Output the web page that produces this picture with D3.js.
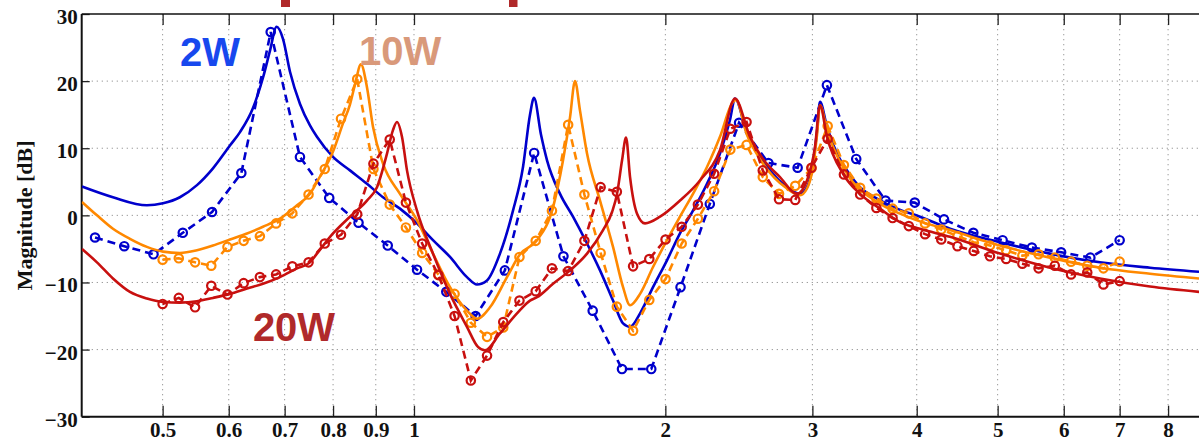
<!DOCTYPE html>
<html><head><meta charset="utf-8">
<script src="https://cdn.jsdelivr.net/npm/d3@7"></script>
<style>html,body{margin:0;padding:0;background:#fff;overflow:hidden}</style>
</head><body><svg id="c" width="1199" height="443"></svg>
<script>
// ---------- data ----------
const xTicks = [0.5,0.6,0.7,0.8,0.9,1,2,3,4,5,6,7,8];
const yTicks = [-30,-20,-10,0,10,20,30];
const seriesNames = ["2W","10W","20W"];

// model curves (solid)
const model2WF  = [0.4003,0.4360,0.4788,0.5005,0.5244,0.5497,0.5745,0.6020,0.6189,0.6415,0.6594,0.6722,0.6847,0.6968,0.7104,0.7303,0.7506,0.7652,0.7999,0.8381,0.8784,0.9181,0.9621,1.0083,1.0538,1.1044,1.1573,1.1897,1.2230,1.2676,1.3139,1.3507,1.3770,1.3923,1.4195,1.4432,1.4959,1.5504,1.6115,1.6703,1.7313,1.7798,1.8145,1.8653,1.9332,2.0090,2.0823,2.1583,2.2433,2.3251,2.3901,2.4233,2.5049,2.5963,2.6910,2.7970,2.8992,2.9557,3.0050,3.0384,3.0636,3.1234,3.2108,3.3006,3.4210,3.5850,3.7886,4.0365,4.3849,5.0326,5.7763,6.6309,7.6118,8.7127];
const model2WDb = [4.3,2.7,1.5,1.8,2.7,4.5,7.0,10.4,12.4,16.0,20.5,24.5,28.1,26.3,21.4,16.6,13.4,11.7,8.7,6.7,4.7,2.7,1.0,-1.2,-3.7,-6.2,-9.2,-10.3,-9.7,-5.7,0.7,7.2,15.0,17.5,12.0,8.2,3.2,-0.2,-4.2,-8.2,-12.7,-16.1,-16.6,-14.6,-10.7,-6.7,-2.7,0.7,4.7,9.2,14.2,17.4,12.2,8.7,6.2,4.2,3.2,4.2,7.7,12.5,16.9,13.2,9.2,6.7,4.2,2.5,1.0,-0.2,-2.0,-4.0,-5.7,-7.0,-7.8,-8.4];

const model10WF  = [0.4003,0.4172,0.4360,0.4569,0.4788,0.5005,0.5244,0.5497,0.5745,0.6020,0.6310,0.6594,0.6910,0.7243,0.7506,0.7652,0.7999,0.8222,0.8381,0.8499,0.8639,0.8784,0.8931,0.9181,0.9621,1.0083,1.0538,1.1044,1.1573,1.1897,1.2331,1.2923,1.3395,1.4039,1.4673,1.5083,1.5377,1.5590,1.5806,1.6115,1.6703,1.7313,1.7798,1.8145,1.8653,1.9332,2.0090,2.0823,2.1583,2.2433,2.3251,2.4100,2.4300,2.5049,2.5963,2.7970,2.8992,2.9557,3.0050,3.0384,3.0636,3.1234,3.3006,3.5850,3.8202,4.0365,4.3849,5.0326,5.7763,6.6309,7.6118,8.7127];
const model10WDb = [2.0,0,-2.0,-3.5,-4.7,-5.4,-5.6,-5.2,-4.5,-3.6,-2.7,-1.7,-0.5,1.5,3.2,5.0,9.5,13.7,16.5,19.5,22.5,19.1,13.2,7.7,3.2,-0.7,-5.7,-10.7,-14.2,-15.4,-13.7,-9.2,-5.8,-3.7,1.2,8.2,14.6,20.0,15.6,9.2,2.2,-4.7,-10.7,-13.4,-11.7,-7.7,-3.7,-0.2,3.2,7.2,11.7,16.9,17.2,12.0,8.4,4.0,3.0,4.0,7.2,12.0,16.4,12.7,6.2,2.0,0.25,-0.9,-2.2,-4.5,-6.3,-7.8,-8.7,-9.4];

const model20WF  = [0.4003,0.4172,0.4360,0.4569,0.4788,0.5005,0.5244,0.5497,0.5745,0.6020,0.6310,0.6594,0.6910,0.7243,0.7506,0.7652,0.7999,0.8381,0.8784,0.9030,0.9283,0.9437,0.9542,0.9674,0.9809,1.0083,1.0538,1.1044,1.1573,1.1930,1.2162,1.2676,1.3285,1.3770,1.4039,1.4673,1.5377,1.6115,1.6842,1.7266,1.7505,1.7749,1.7946,1.8145,1.8499,1.8911,1.9709,2.0823,2.2004,2.3251,2.4233,2.5257,2.6178,2.7435,2.8753,2.9557,3.0217,3.0636,3.1234,3.2643,3.4210,3.6148,3.8202,4.0365,4.3849,5.0326,5.7763,6.6309,7.6118,8.7127];
const model20WDb = [-5.0,-7.0,-9.4,-11.4,-12.4,-12.9,-13.0,-12.8,-12.3,-11.7,-10.9,-10.2,-9.2,-7.9,-7.0,-5.7,-2.7,-0.2,2.2,4.2,9.2,12.7,13.9,11.7,6.7,0.7,-5.7,-11.7,-16.6,-19.6,-20.1,-17.6,-14.6,-12.7,-12.2,-10.2,-8.2,-5.7,-2.2,0.5,3.2,8.2,11.6,5.7,0.25,-1.2,-0.2,2.2,5.2,9.7,17.4,11.7,8.4,5.7,3.2,5.2,10.2,16.4,11.7,6.2,3.2,1.0,-1.0,-2.0,-3.2,-5.7,-7.8,-9.4,-10.6,-11.4];

// measured points (dashed + circles)
const meas2WF  = [0.4150,0.4498,0.4876,0.5286,0.5730,0.6212,0.6736,0.7302,0.7916,0.8582,0.9302,1.0085,1.0932,1.1852,1.2848,1.3929,1.5100,1.6369,1.7746,1.9238,2.0855,2.2609,2.4509,2.6571,2.8804,3.1226,3.3855,3.6699,3.9786,4.3129,4.6759,5.0694,5.4951,5.9566,6.4565,7.0000];
const meas2WDb = [-3.3,-4.6,-5.8,-2.6,0.5,6.3,27.3,8.7,2.6,-1.1,-4.5,-8.1,-11.4,-15.0,-8.2,9.3,-6.1,-14.2,-22.9,-22.9,-10.7,1.7,13.8,7.8,7.1,19.4,8.4,2.2,1.9,-0.6,-2.6,-3.7,-4.8,-5.5,-6.3,-3.7];

const measHiF = [0.5000,0.5228,0.5468,0.5718,0.5979,0.6252,0.6538,0.6837,0.7150,0.7477,0.7819,0.8177,0.8551,0.8942,0.9353,0.9780,1.0228,1.0696,1.1184,1.1697,1.2232,1.2791,1.3376,1.3988,1.4629,1.5298,1.5998,1.6731,1.7496,1.8298,1.9134,2.0010,2.0922,2.1878,2.2880,2.3925,2.5020,2.6164,2.7362,2.8614,2.9923,3.1292,3.2725,3.4223,3.5788,3.7424,3.9137,4.0928,4.2800,4.4757,4.6805,4.8949,5.1188,5.3530,5.5977,5.8538,6.1218,6.4018,6.6940,7.0000];
const meas10WDb = [-6.6,-6.4,-7.0,-7.5,-4.7,-3.8,-3.1,-1.2,0.3,3.1,6.9,14.4,20.3,6.9,1.6,-1.8,-5.6,-8.8,-11.7,-16.0,-18.1,-16.7,-6.2,-3.8,0.7,13.5,3.1,-5.6,-13.6,-17.2,-12.6,-9.5,-4.2,-0.5,3.6,9.8,10.5,5.7,3.2,4.4,7.0,13.3,7.5,4.1,2.5,1.0,0.3,-1.2,-2.1,-3.1,-4.0,-4.5,-5.2,-6.0,-5.8,-6.3,-6.9,-7.5,-7.9,-6.9];
const meas20WDb = [-13.2,-12.3,-13.7,-10.5,-11.8,-10.1,-9.2,-8.8,-7.6,-7.0,-4.2,-2.9,0.15,7.7,11.3,1.9,-4.2,-8.9,-15.0,-24.6,-20.9,-15.9,-12.7,-11.3,-7.9,-8.3,-3.8,4.2,3.5,-7.6,-6.5,-3.6,-1.7,1.6,6.2,12.9,13.9,6.7,2.4,2.3,7.1,11.4,6.1,3.1,1.1,-0.4,-1.6,-2.8,-3.6,-4.6,-5.3,-6.1,-6.5,-7.2,-7.9,-7.5,-8.8,-8.5,-10.3,-9.8];

// ---------- chart ----------
const W = 1199, H = 443;
const svg = d3.select("#c");
const x = d3.scaleLog().domain([0.4, 10]).range([81.7, 1249]);
const y = d3.scaleLinear().domain([-30, 30]).range([416.7, 14]);
const L = x(0.4), R = W, T = y(30), B = y(-30);

const colors = {"2W":"#0000cc","10W":"#ff8800","20W":"#c8100f"};
const labelColors = {"2W":"#1748ee","10W":"#d9997a","20W":"#b0292a"};

// title fragments at top edge (cropped)
svg.append("rect").attr("x",281).attr("y",0).attr("width",9).attr("height",7).attr("fill","#b0292a");
svg.append("rect").attr("x",509).attr("y",0).attr("width",8.5).attr("height",7).attr("fill","#b0292a");

svg.append("defs").append("clipPath").attr("id","clip")
  .append("rect").attr("x",L).attr("y",T).attr("width",R-L).attr("height",B-T);

// grid
const grid = svg.append("g").attr("stroke","#9a9a9a").attr("stroke-width",1).attr("stroke-dasharray","1.3,3.7");
grid.selectAll("line.gx").data(xTicks).join("line")
  .attr("x1",d=>x(d)).attr("x2",d=>x(d)).attr("y1",T).attr("y2",B);
grid.selectAll("line.gy").data(yTicks.filter(d=>d>-30&&d<30)).join("line")
  .attr("x1",L).attr("x2",R).attr("y1",d=>y(d)).attr("y2",d=>y(d));

// axes
const fontTick = "'Liberation Serif','Times New Roman',serif";
const xAxis = svg.append("g").attr("transform",`translate(0,${B})`)
  .call(d3.axisBottom(x).tickValues(xTicks).tickFormat(d=>d).tickSizeInner(-11).tickSizeOuter(0).tickPadding(5));
const yAxis = svg.append("g").attr("transform",`translate(${L},0)`)
  .call(d3.axisLeft(y).tickValues(yTicks).tickSizeInner(-8).tickSizeOuter(0).tickPadding(4));
const topAxis = svg.append("g").attr("transform",`translate(0,${T})`)
  .call(d3.axisTop(x).tickValues(xTicks).tickFormat("").tickSizeInner(-11).tickSizeOuter(0));
[xAxis,yAxis,topAxis].forEach(g=>{
  g.select(".domain").remove();
  g.selectAll(".tick line").attr("stroke","#222").attr("stroke-width",1.3);
  g.selectAll("text").attr("font-family",fontTick).attr("font-weight","bold").attr("font-size",21).attr("fill","#111");
});
yAxis.selectAll("text").attr("dy","0.45em");
// frame
svg.append("line").attr("x1",L).attr("x2",R).attr("y1",B).attr("y2",B).attr("stroke","#111").attr("stroke-width",2);
svg.append("line").attr("x1",L).attr("x2",R).attr("y1",T).attr("y2",T).attr("stroke","#111").attr("stroke-width",1.6);
svg.append("line").attr("x1",L).attr("x2",L).attr("y1",T).attr("y2",B).attr("stroke","#111").attr("stroke-width",2);

// y label
svg.append("text").attr("transform",`translate(32,${(T+B)/2}) rotate(-90)`)
  .attr("text-anchor","middle").attr("font-family",fontTick).attr("font-weight","bold")
  .attr("font-size",22).attr("fill","#111").text("Magnitude [dB]");

// data lines
const plot = svg.append("g").attr("clip-path","url(#clip)");
const lineSmooth = d3.line().x(d=>x(d[0])).y(d=>y(d[1])).curve(d3.curveMonotoneX);
const lineStraight = d3.line().x(d=>x(d[0])).y(d=>y(d[1]));
const zip = (a,b)=>a.map((v,i)=>[v,b[i]]);

const series = [
  {name:"2W", model:zip(model2WF,model2WDb), meas:zip(meas2WF,meas2WDb)},
  {name:"10W", model:zip(model10WF,model10WDb), meas:zip(measHiF,meas10WDb)},
  {name:"20W", model:zip(model20WF,model20WDb), meas:zip(measHiF,meas20WDb)}
];
series.forEach(s=>{
  const c = colors[s.name];
  plot.append("path").datum(s.meas).attr("d",lineStraight).attr("fill","none")
    .attr("stroke",c).attr("stroke-width",2.6).attr("stroke-dasharray","8,5");
  plot.selectAll(null).data(s.meas).join("circle")
    .attr("cx",d=>x(d[0])).attr("cy",d=>y(d[1])).attr("r",4.2)
    .attr("fill","none").attr("stroke",c).attr("stroke-width",2.2);
  plot.append("path").datum(s.model).attr("d",lineSmooth).attr("fill","none")
    .attr("stroke",c).attr("stroke-width",2.6).attr("stroke-linejoin","round");
});

// series labels
const labelPos = {"2W":[x(0.5245),66],"10W":[x(0.8592),65],"20W":[x(0.6413),341]};
seriesNames.forEach(n=>{
  svg.append("text").attr("x",labelPos[n][0]).attr("y",labelPos[n][1])
    .attr("font-family","'Liberation Sans',Arial,sans-serif").attr("font-weight","bold")
    .attr("font-size",40).attr("fill",labelColors[n]).text(n);
});
</script>
</body></html>
